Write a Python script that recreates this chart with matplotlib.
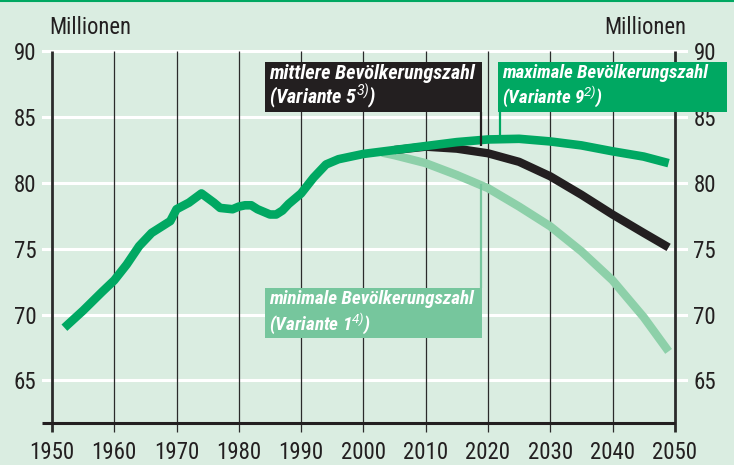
import matplotlib.pyplot as plt
from matplotlib.patches import Rectangle

# Bevoelkerung Deutschland in Millionen
hist_years = [1952, 1955, 1958, 1960, 1962, 1964, 1966, 1968, 1969, 1970, 1972, 1974,
              1976, 1977, 1979, 1980, 1981, 1982, 1983, 1985, 1986, 1987, 1988, 1990,
              1992, 1994, 1996, 2000, 2005]
hist_vals = [69.0, 70.3, 71.7, 72.6, 73.8, 75.2, 76.2, 76.8, 77.1, 78.0, 78.5, 79.2,
             78.5, 78.1, 78.0, 78.2, 78.3, 78.3, 78.0, 77.6, 77.6, 77.9, 78.4, 79.2,
             80.4, 81.4, 81.8, 82.2, 82.5]

max_years = [2005, 2010, 2015, 2020, 2025, 2030, 2035, 2040, 2045, 2049]
max_vals = [82.5, 82.8, 83.1, 83.3, 83.35, 83.15, 82.85, 82.4, 82.0, 81.5]

mid_years = [2005, 2010, 2015, 2020, 2025, 2030, 2035, 2040, 2045, 2049]
mid_vals = [82.5, 82.75, 82.6, 82.25, 81.6, 80.5, 79.1, 77.6, 76.2, 75.1]

min_years = [2003, 2005, 2010, 2015, 2020, 2025, 2030, 2035, 2040, 2045, 2049]
min_vals = [82.3, 82.1, 81.5, 80.6, 79.6, 78.2, 76.7, 74.8, 72.6, 69.8, 67.2]

decades = list(range(1950, 2051, 10))
yticks = [65, 70, 75, 80, 85, 90]

bg = "#daede1"
green = "#00a862"
black = "#231f20"
light = "#8dd0a9"
light_box = "#76c69d"

fnt = ["Roboto Condensed", "Liberation Sans Narrow", "Roboto", "DejaVu Sans"]
plt.rcParams["font.family"] = fnt
plt.rcParams["mathtext.fontset"] = "custom"
plt.rcParams["mathtext.rm"] = "Roboto:italic"
plt.rcParams["mathtext.it"] = "Roboto:italic"

fig = plt.figure(figsize=(7.34, 4.65), dpi=100, facecolor=bg)
ax = fig.add_axes([0.0572, 0.0688, 0.880, 0.8351])
ax.set_facecolor(bg)
ax.set_xlim(1948.4, 2052.1)
ax.set_ylim(61.0, 90.5)
for s in ax.spines.values():
    s.set_visible(False)

renderer = fig.canvas.get_renderer()


def fit(t, width_px):
    bb = t.get_window_extent(renderer)
    t.set_fontsize(t.get_fontsize() * width_px / bb.width)


# grid
for y in yticks:
    ax.axhline(y, color="white", lw=2.2, zorder=1)
for d in decades:
    lw = 2.0 if d in (1950, 2050) else 0.9
    ax.plot([d, d], [61.08, 90], color="#2b2b2b", lw=lw, zorder=2, solid_capstyle="butt")
ax.plot([1948.4, 2050], [61.77, 61.77], color=black, lw=2.2, zorder=2, solid_capstyle="butt")

# lines
ax.plot(min_years, min_vals, color=light, lw=6, zorder=3, solid_capstyle="butt", solid_joinstyle="round")
ax.plot(mid_years, mid_vals, color=black, lw=6, zorder=4, solid_capstyle="butt", solid_joinstyle="round")
ax.plot(hist_years + max_years[1:], hist_vals + max_vals[1:], color=green, lw=6.2, zorder=5,
        solid_capstyle="butt", solid_joinstyle="round")


# label boxes with leader lines
def label(x0, x1, y0, y1, color, l1, l2, lead_x, lead_y0, lead_y1, lead_col):
    ax.add_patch(Rectangle((x0, y0), x1 - x0, y1 - y0, facecolor=color, edgecolor="none",
                           zorder=6, clip_on=False))
    ax.plot([lead_x, lead_x], [lead_y0, lead_y1], color=lead_col, lw=1.6, zorder=6,
            solid_capstyle="butt")
    t1 = ax.text(x0 + 0.7, y1 - 0.2, l1, color="white", fontsize=14, fontweight="bold",
                 fontstyle="italic", va="top", ha="left", zorder=7, clip_on=False)
    fit(t1, 206)
    t2 = ax.text(x0 + 0.7, y0 + 0.2, l2, color="white", fontsize=t1.get_fontsize(),
                 fontweight="bold", fontstyle="italic", va="bottom", ha="left", zorder=7,
                 clip_on=False)
    return t1, t2


label(1984.2, 2019.0, 85.35, 89.21, black, "mittlere Bevölkerungszahl",
      "(Variante 5$^{3)}$)", 2018.9, 85.35, 82.8, black)
label(2021.6, 2058.3, 85.42, 89.21, green, "maximale Bevölkerungszahl",
      "(Variante 9$^{2)}$)", 2022.0, 85.42, 83.5, green)
label(1984.2, 2019.0, 68.18, 72.05, light_box, "minimale Bevölkerungszahl",
      "(Variante 1$^{4)}$)", 2018.9, 72.05, 79.9, light_box)

# tick label size from width of "1950" in the reference
probe = fig.text(0, 0, "1950", fontsize=15)
fit(probe, 45)
tsize = probe.get_fontsize()
probe.remove()

ax.set_xticks(decades)
ax.set_yticks(yticks)
ax.tick_params(axis="x", length=0, pad=6, labelsize=tsize, colors="#231f20")
ax.tick_params(axis="y", length=0, pad=4, labelsize=tsize, colors="#231f20",
               labelleft=True, labelright=True)

m1 = fig.text(49 / 734, 1 - 28 / 465, "Millionen", fontsize=15, va="center", ha="left", color="#231f20")
fit(m1, 82)
m2 = fig.text(686 / 734, 1 - 28 / 465, "Millionen", fontsize=m1.get_fontsize(), va="center",
              ha="right", color="#231f20")

# frame line at top
fig.add_artist(plt.Line2D([0, 1], [0.998, 0.998], color=green, lw=1.5))

plt.savefig("out.png", dpi=100, facecolor=bg)
